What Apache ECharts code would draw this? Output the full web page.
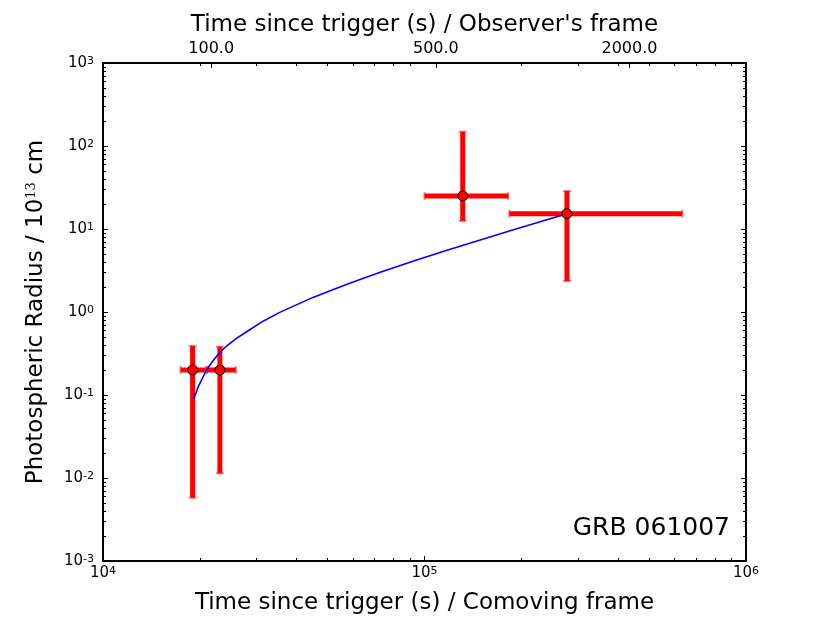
<!DOCTYPE html>
<html>
<head>
<meta charset="utf-8">
<script src="https://cdn.jsdelivr.net/npm/echarts@6/dist/echarts.min.js"></script>
<style>
  html, body { margin: 0; padding: 0; background: #fff; }
  #chart { width: 830px; height: 623px; }
</style>
</head>
<body>
<div id="chart"></div>
<script>
// measurements (comoving frame time in s, radius in 1e13 cm)
const pointTime = [19000, 23100, 131500, 277400];
const timeLow = [17430, 21040, 100000, 183600];
const timeHigh = [20880, 25880, 182300, 634000];
const radius = [0.2, 0.2, 25.0, 15.3];
const radiusLow = [0.0058, 0.0114, 12.5, 2.36];
const radiusHigh = [0.389, 0.382, 148.6, 28.7];

// model curve
const curveTime = [19170, 19770, 20990, 21960, 23090, 24220, 25880, 28200, 31470, 35450,
  44990, 57110, 72470, 91980, 116800, 148200, 188000, 238700, 277400];
const curveRadius = [0.0895, 0.125, 0.2, 0.257, 0.325, 0.389, 0.475, 0.59, 0.775, 0.99,
  1.5, 2.15, 3.0, 4.09, 5.51, 7.33, 9.72, 12.8, 15.3];

// axes
const xMajor = [1e4, 1e5, 1e6];
const yMajor = [1e-3, 1e-2, 1e-1, 1e0, 1e1, 1e2, 1e3];
const topLabels = [100, 500, 2000];
const topRange = [46.08, 4608]; // observer frame seconds at 1e4 .. 1e6 comoving

const minorOf = (majors) => {
  let out = [];
  for (let i = 0; i < majors.length - 1; i++) {
    for (let k = 2; k <= 9; k++) out.push(majors[i] * k);
  }
  return out;
};
const xMinor = minorOf(xMajor);
const yMinor = minorOf(yMajor);

const FONT = "DejaVu Sans";
const powLabel = (v) => "10{sup|" + Math.round(Math.log10(v)) + "}";
const powRich = {
  sup: { fontSize: 11, fontFamily: FONT, verticalAlign: "top", lineHeight: 11, color: "#000" },
};

const chart = echarts.init(document.getElementById("chart"));

const plainLine = { show: true, onZero: false, lineStyle: { color: "#000", width: 2 } };
const noLine = { show: false };

const logX = (extra) =>
  Object.assign(
    {
      type: "log",
      logBase: 10,
      min: xMajor[0],
      max: xMajor[xMajor.length - 1],
      splitLine: { show: false },
      axisLabel: { show: false },
      axisLine: noLine,
    },
    extra
  );
const logY = (extra) =>
  Object.assign(
    {
      type: "log",
      logBase: 10,
      min: yMajor[0],
      max: yMajor[yMajor.length - 1],
      splitLine: { show: false },
      axisLabel: { show: false },
      axisLine: noLine,
    },
    extra
  );

let errData = pointTime.map((t, i) => [t, radius[i], timeLow[i], timeHigh[i], radiusLow[i], radiusHigh[i]]);

let option = {
  animation: false,
  backgroundColor: "#fff",
  grid: { left: 103, right: 84, top: 63, bottom: 62 },
  title: {
    text: "GRB 061007",
    right: 100,
    top: 516,
    padding: 0,
    textStyle: { fontFamily: FONT, fontSize: 25, fontWeight: "normal", color: "#000" },
  },
  xAxis: [
    logX({
      position: "bottom",
      axisLine: plainLine,
      axisTick: { show: true, inside: true, length: 5, customValues: xMajor, lineStyle: { color: "#000" } },
      axisLabel: {
        show: true,
        customValues: xMajor,
        formatter: powLabel,
        fontFamily: FONT,
        fontSize: 15,
        color: "#000",
        margin: 5,
        rich: powRich,
      },
      name: "Time since trigger (s) / Comoving frame",
      nameLocation: "middle",
      nameGap: 31,
      nameTextStyle: { fontFamily: FONT, fontSize: 23, color: "#000" },
    }),
    logX({
      position: "bottom",
      axisTick: { show: true, inside: true, length: 3, customValues: xMinor, lineStyle: { color: "#000" } },
    }),
    logX({
      position: "top",
      axisLine: plainLine,
      axisTick: { show: true, inside: true, length: 3, customValues: xMinor, lineStyle: { color: "#000" } },
    }),
    {
      type: "log",
      logBase: 10,
      position: "top",
      min: topRange[0],
      max: topRange[1],
      splitLine: { show: false },
      axisLine: noLine,
      axisTick: { show: true, inside: true, length: 5, customValues: topLabels, lineStyle: { color: "#000" } },
      axisLabel: {
        show: true,
        customValues: topLabels,
        formatter: (v) => Number(v).toFixed(1),
        fontFamily: FONT,
        fontSize: 16,
        color: "#000",
        margin: 6,
      },
      name: "Time since trigger (s) / Observer's frame",
      nameLocation: "middle",
      nameGap: 25,
      nameTextStyle: { fontFamily: FONT, fontSize: 23, color: "#000" },
    },
  ],
  yAxis: [
    logY({
      position: "left",
      axisLine: plainLine,
      axisTick: { show: true, inside: true, length: 5, customValues: yMajor, lineStyle: { color: "#000" } },
      axisLabel: {
        show: true,
        customValues: yMajor,
        formatter: powLabel,
        fontFamily: FONT,
        fontSize: 15,
        color: "#000",
        margin: 9,
        rich: powRich,
      },
      name: "Photospheric Radius / 10{sup|13} cm",
      nameLocation: "middle",
      nameGap: 55,
      nameTextStyle: {
        fontFamily: FONT,
        fontSize: 23,
        color: "#000",
        rich: { sup: { fontSize: 13, fontFamily: "DejaVu Serif", verticalAlign: "top", lineHeight: 12, color: "#000" } },
      },
    }),
    logY({
      position: "left",
      axisTick: { show: true, inside: true, length: 3, customValues: yMinor, lineStyle: { color: "#000" } },
    }),
    logY({
      position: "right",
      axisLine: plainLine,
      axisTick: { show: true, inside: true, length: 5, customValues: yMajor, lineStyle: { color: "#000" } },
    }),
    logY({
      position: "right",
      axisTick: { show: true, inside: true, length: 3, customValues: yMinor, lineStyle: { color: "#000" } },
    }),
  ],
  series: [
    {
      name: "errors",
      type: "custom",
      xAxisIndex: 0,
      yAxisIndex: 0,
      z: 2,
      data: errData,
      encode: { x: [0, 2, 3], y: [1, 4, 5] },
      renderItem: (params, api) => {
        const x = api.value(0), y = api.value(1);
        const l = api.coord([api.value(2), y]);
        const r = api.coord([api.value(3), y]);
        const b = api.coord([x, api.value(4)]);
        const t = api.coord([x, api.value(5)]);
        const bar = { stroke: "#ff0000", lineWidth: 5 };
        const cap = { stroke: "rgba(255,0,0,0.5)", lineWidth: 2 };
        const c = 4;
        const ln = (x1, y1, x2, y2, s) => ({ type: "line", shape: { x1, y1, x2, y2 }, style: s });
        return {
          type: "group",
          children: [
            ln(l[0], l[1], r[0], r[1], bar),
            ln(b[0], b[1], t[0], t[1], bar),
            ln(l[0], l[1] - c, l[0], l[1] + c, cap),
            ln(r[0], r[1] - c, r[0], r[1] + c, cap),
            ln(b[0] - c, b[1], b[0] + c, b[1], cap),
            ln(t[0] - c, t[1], t[0] + c, t[1], cap),
          ],
        };
      },
    },
    {
      name: "model",
      type: "line",
      xAxisIndex: 0,
      yAxisIndex: 0,
      z: 3,
      smooth: false,
      showSymbol: false,
      symbol: "none",
      lineStyle: { color: "#0000ff", width: 1.6, join: "round" },
      data: curveTime.map((t, i) => [t, curveRadius[i]]),
    },
    {
      name: "points",
      type: "scatter",
      xAxisIndex: 0,
      yAxisIndex: 0,
      z: 4,
      symbolSize: 10,
      itemStyle: { color: "#ff0000", borderColor: "#000", borderWidth: 1, opacity: 1 },
      data: pointTime.map((t, i) => [t, radius[i]]),
    },
  ],
};
chart.setOption(option, true);
</script>
</body>
</html>
